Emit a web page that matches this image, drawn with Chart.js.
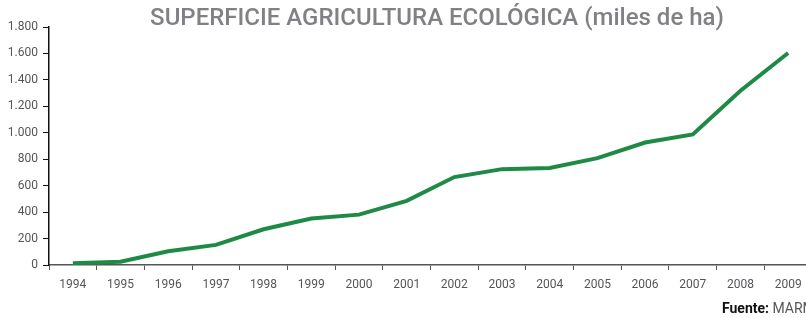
<!DOCTYPE html>
<html>
<head>
<meta charset="utf-8">
<script src="https://cdn.jsdelivr.net/npm/chart.js@4.4.1/dist/chart.umd.min.js"></script>
<style>
  html, body { margin: 0; padding: 0; background: #fff; overflow: hidden; }
  #wrap { width: 806px; height: 318px; overflow: hidden; }
</style>
</head>
<body>
<div id="wrap"><canvas id="chart" width="830" height="318"></canvas></div>
<script>
const years = ['1994', '1995', '1996', '1997', '1998', '1999', '2000', '2001',
               '2002', '2003', '2004', '2005', '2006', '2007', '2008', '2009']
const surface = [14, 24, 104, 152, 270, 352, 381, 485, 665, 725, 733, 808, 926, 988, 1318, 1603]
const yTicks = [0, 200, 400, 600, 800, 1000, 1200, 1400, 1600, 1800]

const TITLE = 'SUPERFICIE AGRICULTURA ECOLÓGICA (miles de ha)'
const LINE_COLOR = '#1e8a45'
const LABEL_COLOR = '#55565a'

const fmt = v => v.toLocaleString('de-DE')

const textPlugin = {
    id: 'texts',
    afterDraw(chart) {
        const ctx = chart.ctx
        ctx.save()
        ctx.fillStyle = '#808085'
        ctx.font = '500 24px Roboto'
        ctx.textAlign = 'center'
        ctx.textBaseline = 'middle'
        ctx.fillText(TITLE, 437, 19)

        ctx.textAlign = 'left'
        ctx.font = 'bold 14px Roboto'
        ctx.fillStyle = '#111'
        ctx.fillText('Fuente:', 722, 309)
        const w = ctx.measureText('Fuente: ').width
        ctx.font = '14px Roboto'
        ctx.fillStyle = LABEL_COLOR
        ctx.fillText('MARM', 722 + w, 309)
        ctx.restore()
    }
}

new Chart(document.getElementById('chart'), {
    type: 'line',
    data: {
        labels: years,
        datasets: [{
            data: surface,
            borderColor: LINE_COLOR,
            borderWidth: 4,
            pointRadius: 0,
            tension: 0,
            fill: false
        }]
    },
    options: {
        responsive: false,
        animation: false,
        layout: { padding: { top: 27, left: 0, right: 18, bottom: 0 } },
        plugins: { legend: { display: false }, tooltip: { enabled: false } },
        scales: {
            x: {
                offset: true,
                grid: { offset: true, drawOnChartArea: false, drawTicks: true, tickLength: 5, color: '#555' },
                border: { color: '#555', width: 1.5 },
                ticks: { color: LABEL_COLOR, font: { family: 'Roboto', size: 12 }, padding: 8, maxRotation: 0, autoSkip: false },
                afterFit: s => { s.height = 53 }
            },
            y: {
                min: 0,
                max: 1800,
                afterBuildTicks: s => { s.ticks = yTicks.map(v => ({ value: v })) },
                grid: { drawOnChartArea: false, drawTicks: true, tickLength: 6, color: '#111' },
                border: { color: '#111', width: 1.5 },
                ticks: { color: LABEL_COLOR, font: { family: 'Roboto', size: 12 }, padding: 5, callback: v => fmt(v) },
                afterFit: s => { s.width = 49 }
            }
        }
    },
    plugins: [textPlugin]
})
</script>
</body>
</html>
